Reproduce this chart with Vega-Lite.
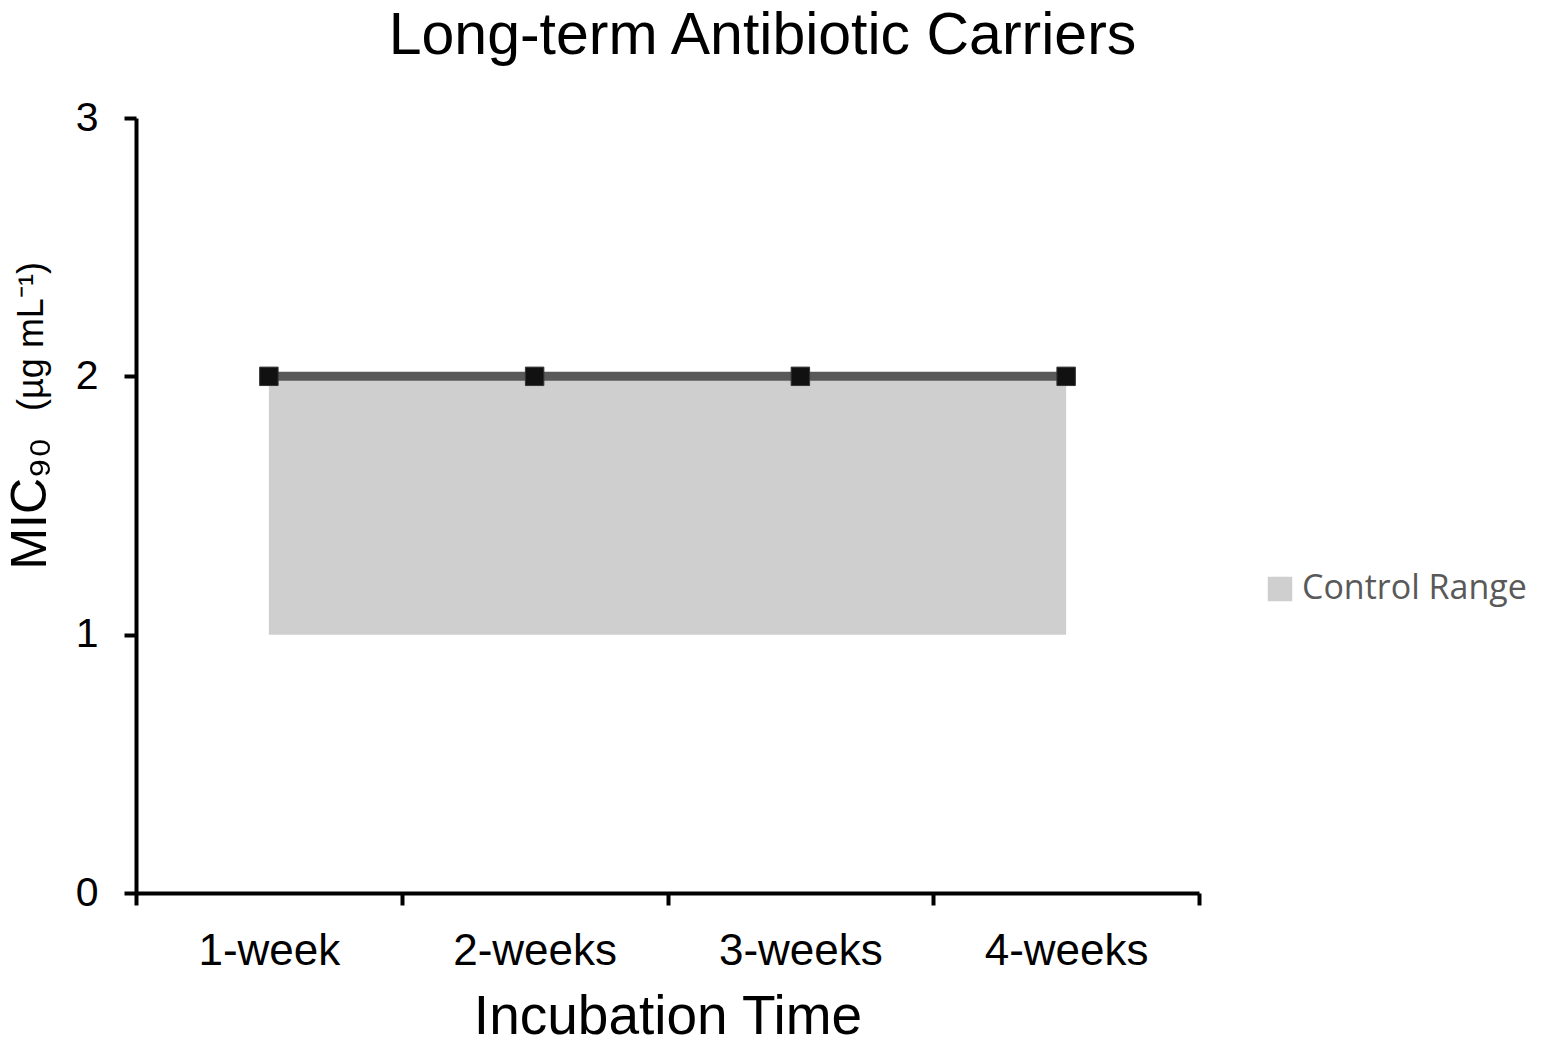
{
  "$schema": "https://vega.github.io/schema/vega-lite/v6.json",
  "autosize": "none",
  "width": 1063,
  "height": 775,
  "padding": {"left": 136, "top": 118, "right": 345, "bottom": 155},
  "background": "white",
  "title": {
    "text": "Long-term Antibiotic Carriers",
    "font": "Liberation Sans",
    "fontSize": 59,
    "fontWeight": "normal",
    "color": "black",
    "anchor": "middle",
    "dx": 95,
    "offset": 31
  },
  "data": {
    "values": [
      {"time": "1-week", "mic": 2, "low": 1, "high": 2, "series": "Control Range"},
      {"time": "2-weeks", "mic": 2, "low": 1, "high": 2, "series": "Control Range"},
      {"time": "3-weeks", "mic": 2, "low": 1, "high": 2, "series": "Control Range"},
      {"time": "4-weeks", "mic": 2, "low": 1, "high": 2, "series": "Control Range"}
    ]
  },
  "config": {
    "view": {"stroke": null},
    "axis": {
      "labelFont": "Liberation Sans",
      "titleFont": "Liberation Sans",
      "labelColor": "black",
      "titleColor": "black",
      "domainColor": "black",
      "tickColor": "black",
      "domainWidth": 4,
      "tickWidth": 4,
      "tickSize": 12,
      "grid": false,
      "titleFontWeight": "normal"
    }
  },
  "encoding": {
    "x": {
      "field": "time",
      "type": "nominal",
      "sort": null,
      "scale": {"type": "band", "paddingInner": 0, "paddingOuter": 0},
      "axis": {
        "title": "Incubation Time",
        "titleFontSize": 55,
        "titlePadding": 17,
        "labelFontSize": 44,
        "labelAngle": 0,
        "labelPadding": 24,
        "tickBand": "extent"
      }
    }
  },
  "layer": [
    {
      "mark": {"type": "area", "opacity": 1},
      "encoding": {
        "y": {
          "field": "low",
          "type": "quantitative",
          "scale": {"domain": [0, 3]},
          "axis": {
            "orient": "left",
            "values": [0, 1, 2, 3],
            "labelFontSize": 41,
            "labelPadding": 26,
            "title": "MIC₉₀",
            "titleFontSize": 50,
            "titleX": -91,
            "titleY": 385,
            "titleAngle": -90,
            "titleAlign": "center",
            "titleBaseline": "alphabetic"
          }
        },
        "y2": {"field": "high"},
        "color": {
          "field": "series",
          "type": "nominal",
          "scale": {"range": ["#D0CFD0"]},
          "legend": {
            "title": null,
            "orient": "none",
            "legendX": 1127,
            "legendY": 454,
            "symbolType": "square",
            "symbolSize": 600,
            "symbolStrokeWidth": 0,
            "labelFont": "Open Sans",
            "labelFontSize": 34,
            "labelColor": "#595959",
            "labelOffset": 5,
            "labelLimit": 400
          }
        }
      }
    },
    {
      "mark": {"type": "line", "color": "#595959", "strokeWidth": 9},
      "encoding": {
        "y": {
          "field": "mic",
          "type": "quantitative",
          "scale": {"domain": [0, 3]},
          "axis": {
            "orient": "left",
            "domain": false,
            "ticks": false,
            "labels": false,
            "title": "(µg mL⁻¹)",
            "titleFontSize": 36,
            "titleX": -94,
            "titleY": 218,
            "titleAngle": -90,
            "titleAlign": "center",
            "titleBaseline": "alphabetic"
          }
        }
      }
    },
    {
      "mark": {"type": "point", "shape": "square", "filled": true, "size": 340, "color": "#111111", "stroke": "#333333", "strokeWidth": 1, "opacity": 1},
      "encoding": {
        "y": {"field": "mic", "type": "quantitative", "axis": null}
      }
    }
  ],
  "resolve": {"axis": {"y": "independent"}}
}
